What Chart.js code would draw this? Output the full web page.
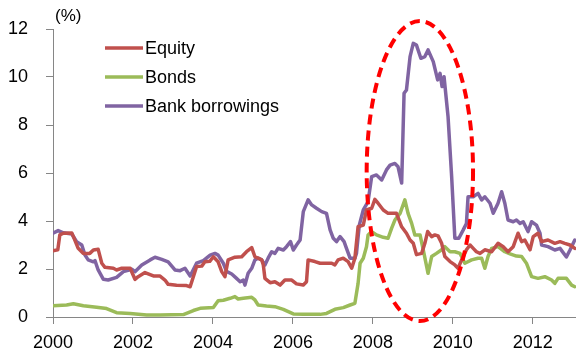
<!DOCTYPE html>
<html>
<head>
<meta charset="utf-8">
<script src="https://cdn.jsdelivr.net/npm/chart.js@4.4.1/dist/chart.umd.min.js"></script>
<style>
  html, body { margin: 0; padding: 0; background: #fff; }
  #chart { display: block; }
</style>
</head>
<body>
<canvas id="chart" width="576" height="358"></canvas>
<script>
// Funding cost series, % (time in decimal years)
const equityT = [2000.0, 2000.12, 2000.17, 2000.26, 2000.47, 2000.51, 2000.63, 2000.76, 2000.92, 2001.01,
  2001.13, 2001.22, 2001.3, 2001.51, 2001.59, 2001.72, 2001.93, 2002.05, 2002.13, 2002.3,
  2002.51, 2002.67, 2002.8, 2002.88, 2003.09, 2003.34, 2003.43, 2003.51, 2003.59, 2003.72,
  2003.8, 2003.92, 2004.01, 2004.13, 2004.22, 2004.3, 2004.38, 2004.55, 2004.72, 2004.84,
  2004.97, 2005.05, 2005.13, 2005.22, 2005.26, 2005.3, 2005.43, 2005.55, 2005.68, 2005.8,
  2005.97, 2006.09, 2006.26, 2006.34, 2006.38, 2006.55, 2006.68, 2006.97, 2007.05, 2007.13,
  2007.26, 2007.38, 2007.47, 2007.55, 2007.63, 2007.76, 2007.84, 2007.97, 2008.05, 2008.13,
  2008.26, 2008.38, 2008.47, 2008.59, 2008.72, 2008.84, 2008.93, 2009.01, 2009.09, 2009.22,
  2009.3, 2009.37, 2009.47, 2009.55, 2009.63, 2009.72, 2009.8, 2009.93, 2010.05, 2010.13,
  2010.22, 2010.34, 2010.43, 2010.51, 2010.59, 2010.68, 2010.8, 2010.97, 2011.13, 2011.26,
  2011.38, 2011.51, 2011.63, 2011.72, 2011.8, 2011.93, 2012.01, 2012.13, 2012.22, 2012.38,
  2012.55, 2012.68, 2012.8, 2012.93, 2013.05];
const equityV = [2.76, 2.8, 3.42, 3.49, 3.5, 3.35, 2.86, 2.65, 2.65, 2.79,
  2.82, 2.24, 2.07, 2.03, 1.96, 2.03, 2.03, 1.57, 1.68, 1.85,
  1.71, 1.71, 1.54, 1.36, 1.32, 1.31, 1.26, 1.68, 2.1, 2.12,
  2.3, 2.32, 2.51, 2.3, 1.89, 1.68, 2.38, 2.49, 2.51, 2.72,
  2.89, 2.51, 2.45, 2.38, 2.17, 1.61, 1.43, 1.47, 1.33, 1.54,
  1.54, 1.38, 1.33, 1.47, 2.38, 2.31, 2.24, 2.24, 2.17, 2.38,
  2.45, 2.31, 2.03, 2.45, 3.76, 3.83, 4.46, 4.53, 4.9, 4.74,
  4.46, 4.32, 4.32, 4.32, 3.76, 3.49, 3.21, 3.07, 2.6, 2.65,
  3.07, 3.56, 3.35, 3.42, 3.38, 3.07, 2.52, 2.31, 2.17, 2.03,
  2.38, 2.8, 3.0, 2.86, 2.72, 2.65, 2.8, 2.72, 3.07, 2.93,
  2.72, 2.93, 3.49, 3.14, 3.21, 2.8, 3.35, 3.49, 3.14, 3.21,
  3.07, 3.14, 3.07, 3.0, 2.86];

const bondsT = [2000.0, 2000.34, 2000.51, 2000.76, 2001.09, 2001.34, 2001.59, 2001.93, 2002.34, 2002.68,
  2003.26, 2003.51, 2003.68, 2004.01, 2004.13, 2004.26, 2004.43, 2004.55, 2004.63, 2004.76,
  2004.97, 2005.05, 2005.13, 2005.34, 2005.55, 2005.76, 2006.01, 2006.26, 2006.68, 2006.84,
  2007.05, 2007.26, 2007.43, 2007.55, 2007.63, 2007.68, 2007.76, 2007.84, 2007.88, 2007.97,
  2008.09, 2008.26, 2008.38, 2008.47, 2008.55, 2008.68, 2008.8, 2008.88, 2008.97, 2009.05,
  2009.18, 2009.26, 2009.38, 2009.47, 2009.59, 2009.72, 2009.8, 2009.93, 2010.05, 2010.18,
  2010.3, 2010.47, 2010.63, 2010.72, 2010.8, 2010.88, 2010.97, 2011.13, 2011.3, 2011.43,
  2011.59, 2011.72, 2011.84, 2011.97, 2012.13, 2012.3, 2012.47, 2012.55, 2012.63, 2012.84,
  2012.97, 2013.05];
const bondsV = [0.47, 0.5, 0.55, 0.47, 0.41, 0.35, 0.18, 0.15, 0.08, 0.08,
  0.1, 0.27, 0.36, 0.4, 0.68, 0.7, 0.78, 0.85, 0.75, 0.78,
  0.82, 0.71, 0.5, 0.46, 0.43, 0.32, 0.13, 0.11, 0.11, 0.15,
  0.32, 0.39, 0.5, 0.57, 1.4, 2.24, 2.45, 2.93, 3.42, 3.56,
  3.42, 3.32, 3.28, 3.7, 4.04, 4.32, 4.88, 4.32, 3.9, 3.42,
  3.42, 2.8, 1.82, 2.52, 2.65, 2.8, 2.93, 2.72, 2.72, 2.65,
  2.24, 2.38, 2.45, 2.45, 2.03, 2.52, 2.86, 2.93, 2.72, 2.63,
  2.54, 2.52, 2.24, 1.68, 1.61, 1.68, 1.54, 1.4, 1.61, 1.61,
  1.33, 1.26];

const bankT = [2000.0, 2000.13, 2000.26, 2000.47, 2000.59, 2000.72, 2000.8, 2000.88, 2001.01, 2001.05,
  2001.13, 2001.26, 2001.38, 2001.59, 2001.76, 2001.97, 2002.05, 2002.22, 2002.43, 2002.55,
  2002.72, 2002.88, 2003.05, 2003.18, 2003.3, 2003.43, 2003.59, 2003.76, 2003.93, 2004.05,
  2004.13, 2004.26, 2004.34, 2004.47, 2004.59, 2004.68, 2004.76, 2004.8, 2004.88, 2004.97,
  2005.05, 2005.13, 2005.22, 2005.3, 2005.38, 2005.47, 2005.55, 2005.63, 2005.76, 2005.84,
  2005.94, 2006.01, 2006.09, 2006.18, 2006.26, 2006.38, 2006.47, 2006.59, 2006.72, 2006.84,
  2006.93, 2007.01, 2007.09, 2007.18, 2007.28, 2007.34, 2007.43, 2007.55, 2007.59, 2007.66,
  2007.76, 2007.88, 2007.97, 2008.09, 2008.22, 2008.34, 2008.43, 2008.55, 2008.63, 2008.72,
  2008.78, 2008.84, 2008.93, 2009.01, 2009.09, 2009.2, 2009.3, 2009.38, 2009.51, 2009.62,
  2009.68, 2009.73, 2009.78, 2009.88, 2009.97, 2010.05, 2010.15, 2010.26, 2010.34, 2010.38,
  2010.51, 2010.63, 2010.72, 2010.8, 2010.93, 2011.01, 2011.13, 2011.22, 2011.3, 2011.38,
  2011.51, 2011.59, 2011.68, 2011.76, 2011.88, 2011.97, 2012.09, 2012.18, 2012.22, 2012.38,
  2012.55, 2012.68, 2012.84, 2012.93, 2013.05];
const bankV = [3.49, 3.6, 3.51, 3.46, 3.14, 3.0, 2.58, 2.38, 2.3, 2.35,
  1.96, 1.57, 1.54, 1.65, 1.89, 1.99, 1.89, 2.17, 2.38, 2.49,
  2.4, 2.3, 1.96, 1.93, 2.03, 1.71, 2.24, 2.35, 2.58, 2.65,
  2.58, 2.24, 1.9, 1.79, 1.61, 1.47, 1.54, 1.33, 1.82, 2.03,
  2.38, 2.45, 2.38, 2.17, 2.45, 2.72, 2.65, 2.86, 2.79, 2.93,
  3.14, 2.79, 3.0, 3.21, 4.39, 4.88, 4.67, 4.53, 4.39, 4.32,
  3.63, 3.28, 3.14, 3.35, 3.14, 2.86, 2.45, 2.45, 2.65, 3.83,
  4.46, 4.81, 5.85, 5.92, 5.71, 6.13, 6.33, 6.4, 6.26, 5.58,
  9.32, 9.46, 10.85, 11.4, 11.33, 10.78, 10.85, 11.13, 10.64, 9.88,
  10.15, 9.6, 10.01, 8.35, 5.85, 3.28, 3.28, 3.63, 3.9, 5.01,
  5.01, 5.15, 4.88, 5.01, 4.74, 4.32, 4.74, 5.22, 4.74, 4.04,
  3.97, 4.04, 3.9, 3.97, 3.56, 3.97, 3.83, 3.49, 3.0, 2.93,
  2.79, 2.86, 2.5, 2.79, 3.21];

const seriesNames = ['Equity', 'Bonds', 'Bank borrowings'];
const seriesColors = ['#C0504D', '#9BBB59', '#8064A2'];
const yearTicks = [2000, 2002, 2004, 2006, 2008, 2010, 2012];
const pctTicks = [0, 2, 4, 6, 8, 10, 12];

const FONT = "'Liberation Sans', Arial, sans-serif";
const AXIS_GREY = '#868686';

function toPoints(ts, vs) {
  return ts.map((t, i) => ({ x: t, y: vs[i] }));
}

// dashed oval marking the 2008-09 spike, in data units
const crisisOval = {
  id: 'crisisOval',
  afterDatasetsDraw(chart) {
    const { ctx, scales: { x, y } } = chart;
    const cx = x.getPixelForValue(2009.175);
    const cy = y.getPixelForValue(6.08);
    const rx = x.getPixelForValue(2009.175 + 1.33) - cx;
    const ry = cy - y.getPixelForValue(6.08 + 6.25);
    ctx.save();
    ctx.beginPath();
    ctx.ellipse(cx, cy, rx, ry, 0, 0, Math.PI * 2);
    ctx.setLineDash([10, 6]);
    ctx.lineWidth = 4;
    ctx.strokeStyle = '#FF0000';
    ctx.stroke();
    ctx.restore();
  }
};

// unit label and in-plot legend
const chartText = {
  id: 'chartText',
  afterDraw(chart) {
    const ctx = chart.ctx;
    ctx.save();
    ctx.fillStyle = '#000';
    ctx.textBaseline = 'middle';
    ctx.font = '17px ' + FONT;
    ctx.fillText('(%)', 55, 16);

    ctx.font = '18px ' + FONT;
    seriesNames.forEach((name, i) => {
      const yy = 48 + i * 29;
      ctx.strokeStyle = seriesColors[i];
      ctx.lineWidth = 3.5;
      ctx.beginPath();
      ctx.moveTo(105, yy);
      ctx.lineTo(143, yy);
      ctx.stroke();
      ctx.fillText(name, 145, yy + 1);
    });
    ctx.restore();
  }
};

new Chart(document.getElementById('chart').getContext('2d'), {
  type: 'line',
  data: {
    datasets: [
      { label: seriesNames[0], data: toPoints(equityT, equityV), borderColor: seriesColors[0] },
      { label: seriesNames[1], data: toPoints(bondsT, bondsV), borderColor: seriesColors[1] },
      { label: seriesNames[2], data: toPoints(bankT, bankV), borderColor: seriesColors[2] }
    ]
  },
  options: {
    responsive: false,
    animation: false,
    devicePixelRatio: 1,
    layout: { padding: { top: 29, right: 0, bottom: 0, left: 0 } },
    elements: {
      line: { borderWidth: 3.5, tension: 0, borderJoinStyle: 'round', borderCapStyle: 'round' },
      point: { radius: 0 }
    },
    scales: {
      x: {
        type: 'linear',
        min: 2000,
        max: 2013.08,
        afterBuildTicks: (scale) => { scale.ticks = yearTicks.map(v => ({ value: v })); },
        afterFit: (scale) => { scale.height = 41; },
        ticks: {
          color: '#000',
          font: { family: FONT, size: 18 },
          padding: 8,
          maxRotation: 0,
          callback: (v) => String(v)
        },
        grid: { drawOnChartArea: false, drawTicks: true, tickLength: 7, color: AXIS_GREY },
        border: { color: AXIS_GREY, width: 1 }
      },
      y: {
        min: 0,
        max: 12,
        afterBuildTicks: (scale) => { scale.ticks = pctTicks.map(v => ({ value: v })); },
        afterFit: (scale) => { scale.width = 53; },
        ticks: {
          color: '#000',
          font: { family: FONT, size: 18 },
          padding: 18,
          callback: (v) => String(v)
        },
        grid: { drawOnChartArea: false, drawTicks: true, tickLength: 7, color: AXIS_GREY },
        border: { color: AXIS_GREY, width: 1 }
      }
    },
    plugins: {
      legend: { display: false },
      tooltip: { enabled: false }
    }
  },
  plugins: [crisisOval, chartText]
});
</script>
</body>
</html>
